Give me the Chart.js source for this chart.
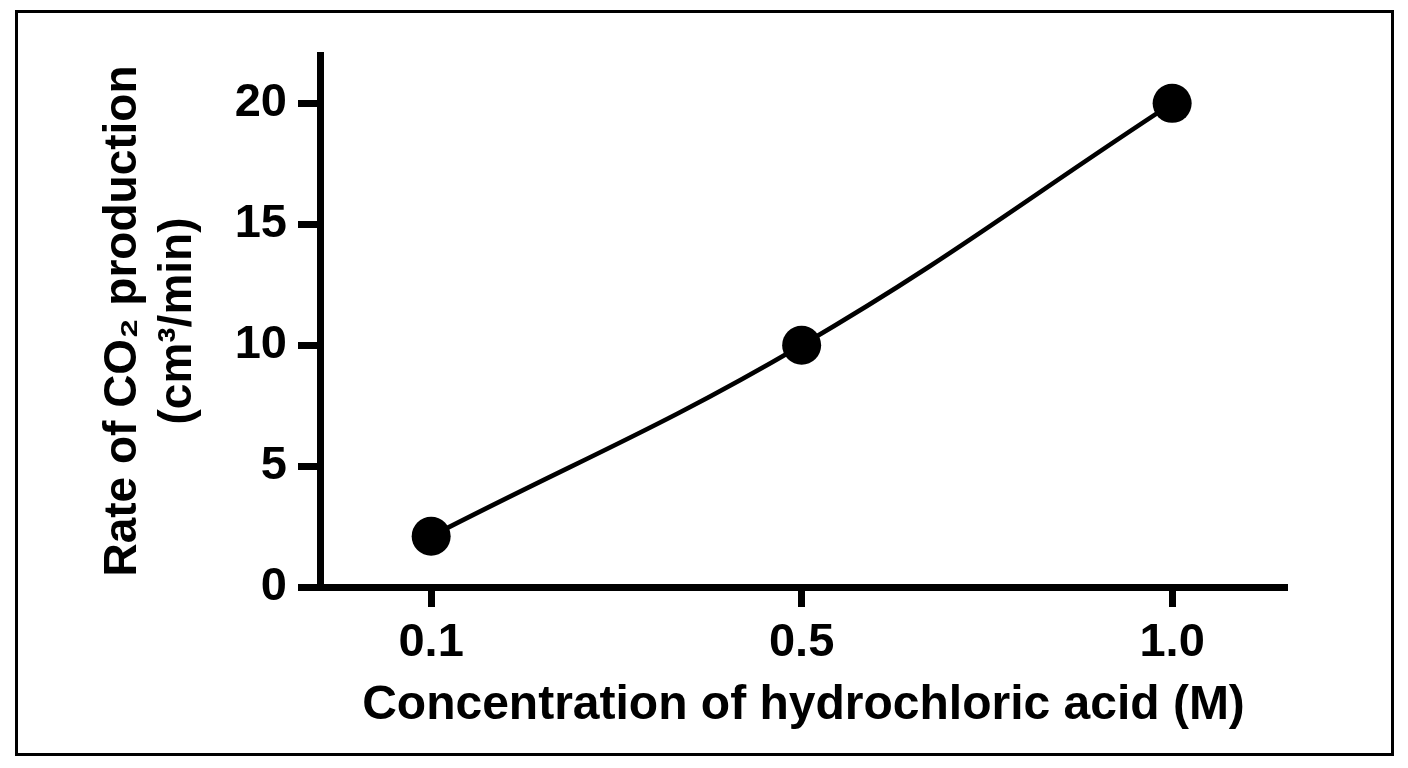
<!DOCTYPE html>
<html>
<head>
<meta charset="utf-8">
<script src="https://cdn.jsdelivr.net/npm/chart.js@4.4.1/dist/chart.umd.min.js"></script>
<style>
  html, body { margin: 0; padding: 0; background: #fff; }
  #wrap { position: relative; width: 1408px; height: 768px; }
  #frame { position: absolute; left: 15px; top: 10px; width: 1373px; height: 740px; border: 3px solid #000; pointer-events: none; }
  canvas { position: absolute; left: 0; top: 0; }
</style>
</head>
<body>
<div id="wrap">
  <canvas id="c" width="1408" height="768"></canvas>
  <div id="frame"></div>
</div>
<script>
const categories = ['0.1', '0.5', '1.0'];
const rates = [2.1, 10, 20];
const yTicks = [0, 5, 10, 15, 20];
const xTitle = 'Concentration of hydrochloric acid (M)';
const yTitle = ['Rate of CO\u2082 production', '(cm\u00B3/min)'];

const FONT = '"Liberation Sans", Arial, Helvetica, sans-serif';

const points = categories.map((c, i) => ({ x: i, y: rates[i] }));

new Chart(document.getElementById('c'), {
  type: 'line',
  data: {
    datasets: [{
      data: points,
      borderColor: '#000',
      backgroundColor: '#000',
      borderWidth: 4.6,
      tension: 0.4,
      pointRadius: 19.5,
      pointHoverRadius: 19.5,
      pointBackgroundColor: '#000',
      pointBorderWidth: 0,
      fill: false
    }]
  },
  options: {
    responsive: false,
    animation: false,
    devicePixelRatio: 1,
    layout: { padding: { top: 55, right: 121, left: 0, bottom: 0 } },
    plugins: { legend: { display: false }, tooltip: { enabled: false } },
    scales: {
      x: {
        type: 'linear',
        min: -0.3,
        max: 2.31,
        afterBuildTicks: (s) => { s.ticks = categories.map((c, i) => ({ value: i })); },
        afterFit: (s) => { s.height = 181; },
        ticks: {
          callback: (v) => categories[v],
          color: '#000',
          font: { family: FONT, size: 47, weight: 'bold' },
          padding: 8,
          maxRotation: 0
        },
        grid: { drawOnChartArea: false, drawTicks: true, tickLength: 20, tickWidth: 7, tickColor: '#000' },
        border: { display: true, width: 7, color: '#000' },
        title: {
          display: true,
          text: xTitle,
          color: '#000',
          font: { family: FONT, size: 48, weight: 'bold' },
          padding: { top: 0, bottom: 33 }
        }
      },
      y: {
        min: 0,
        max: 22,
        afterBuildTicks: (s) => { s.ticks = yTicks.map(v => ({ value: v })); },
        afterFit: (s) => { s.width = 320; },
        ticks: {
          color: '#000',
          font: { family: FONT, size: 47, weight: 'bold' },
          padding: 11,
          includeBounds: false
        },
        grid: { drawOnChartArea: false, drawTicks: true, tickLength: 22, tickWidth: 7, tickColor: '#000' },
        border: { display: true, width: 7, color: '#000' },
        title: {
          display: true,
          text: yTitle,
          color: '#000',
          font: { family: FONT, size: 46, weight: 'bold', lineHeight: 1.2 },
          padding: { top: 96, bottom: 0 }
        }
      }
    }
  }
});
</script>
</body>
</html>
